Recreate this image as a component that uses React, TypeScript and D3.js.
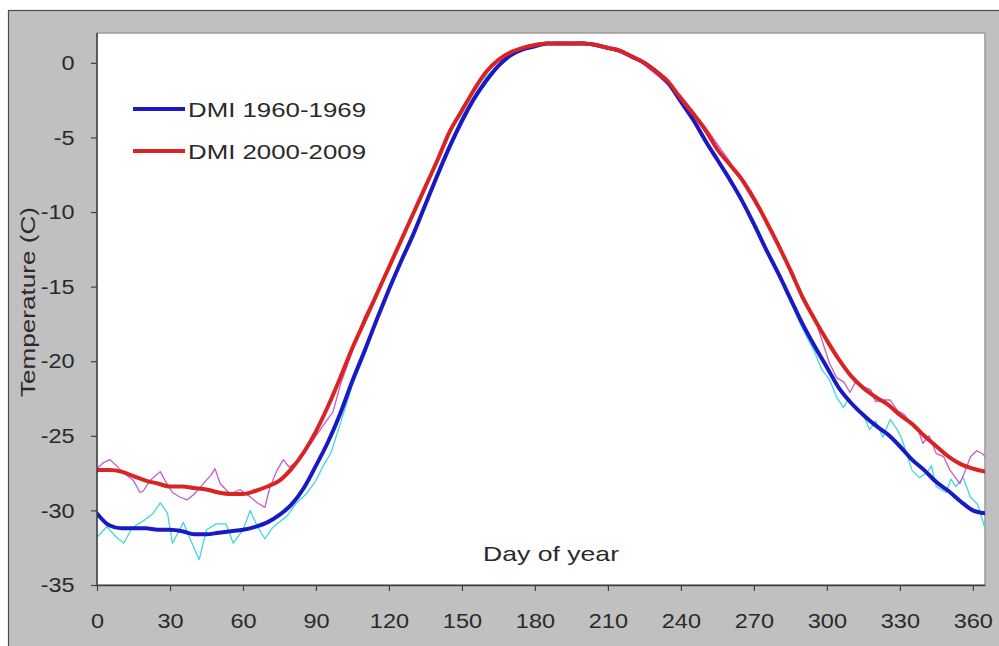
import { useEffect, useRef } from 'react';
import * as d3 from 'd3';

// smoothed curves, 5-day steps
const days = [0, 5, 10, 15, 20, 25, 30, 35, 40, 45, 50, 55, 60, 65, 70, 75, 80, 85, 90, 95, 100,
  105, 110, 115, 120, 125, 130, 135, 140, 145, 150, 155, 160, 165, 170, 175, 180, 185, 190, 195, 200,
  205, 210, 215, 220, 225, 230, 235, 240, 245, 250, 255, 260, 265, 270, 275, 280, 285, 290, 295, 300,
  305, 310, 315, 320, 325, 330, 335, 340, 345, 350, 355, 360, 365];

const dmi1960 = [-30.2, -31.0, -31.2, -31.2, -31.2, -31.3, -31.3, -31.4, -31.6, -31.6, -31.5, -31.4, -31.3,
  -31.1, -30.8, -30.3, -29.6, -28.5, -27.0, -25.4, -23.5, -21.3, -19.3, -17.2, -15.2, -13.3, -11.5, -9.5,
  -7.5, -5.6, -3.9, -2.4, -1.2, -0.2, 0.5, 0.9, 1.1, 1.3, 1.3, 1.3, 1.3, 1.2, 1.0, 0.8, 0.4, 0.0, -0.6,
  -1.4, -2.6, -3.8, -5.2, -6.5, -7.8, -9.2, -10.8, -12.5, -14.1, -15.8, -17.5, -19.0, -20.4, -21.8, -22.8,
  -23.6, -24.3, -24.9, -25.7, -26.6, -27.3, -28.1, -28.7, -29.4, -30.0, -30.2];

const dmi2000 = [-27.3, -27.3, -27.4, -27.7, -28.0, -28.2, -28.4, -28.4, -28.5, -28.6, -28.8, -28.9, -28.9,
  -28.7, -28.4, -28.0, -27.2, -26.1, -24.7, -23.0, -21.1, -19.1, -17.3, -15.5, -13.7, -11.9, -10.1, -8.3,
  -6.5, -4.6, -3.2, -1.8, -0.6, 0.2, 0.7, 1.0, 1.2, 1.3, 1.3, 1.3, 1.3, 1.2, 1.0, 0.8, 0.4, 0.0, -0.6,
  -1.3, -2.4, -3.4, -4.5, -5.8, -6.8, -7.8, -9.1, -10.6, -12.2, -13.9, -15.7, -17.2, -18.6, -19.9, -21.0,
  -21.8, -22.4, -22.9, -23.6, -24.2, -25.0, -25.7, -26.4, -26.9, -27.2, -27.4];

// daily (unsmoothed) traces
const raw1960Days = [0, 4, 8, 11, 14, 16, 20, 23, 26, 29, 31, 33, 35.5, 38, 42, 45, 49, 53, 56, 60, 63, 66,
  69, 72, 74, 78, 82, 86, 90, 93, 96, 100, 105, 110, 120, 130, 140, 150, 160, 170, 180, 190, 200, 210,
  220, 230, 240, 250, 260, 270, 280, 290, 295, 298, 301, 304, 306.8, 309, 312, 315, 317.6, 320, 323, 326,
  329, 331, 335, 338, 341, 343, 345, 349, 351, 353, 356, 359, 362, 365];
const raw1960 = [-31.8, -31.1, -31.8, -32.2, -31.3, -31.0, -30.6, -30.2, -29.5, -30.2, -32.2, -31.6, -30.8,
  -31.8, -33.3, -31.3, -30.9, -30.9, -32.2, -31.3, -30.0, -31.1, -31.9, -31.2, -30.9, -30.4, -29.5, -28.9,
  -28.0, -27.0, -26.2, -24.2, -21.6, -19.6, -15.0, -11.6, -7.3, -3.6, -0.9, 0.6, 1.2, 1.4, 1.3, 1.0, 0.4,
  -0.5, -2.3, -5.3, -7.6, -11.0, -14.2, -17.8, -19.4, -20.6, -21.2, -22.4, -23.1, -22.5, -23.3, -23.6,
  -24.6, -24.0, -25.1, -23.9, -24.6, -25.3, -27.3, -27.8, -27.5, -27.0, -28.4, -28.8, -27.9, -28.4, -27.8,
  -29.1, -29.6, -31.2];

const raw2000Days = [0, 2.6, 5.4, 8, 11, 15, 17.7, 19, 21.8, 26, 28, 31, 34, 37, 40, 43.7, 47, 48.5, 50.6,
  54.7, 58.8, 63, 66, 69, 71, 74, 76.6, 79, 83.5, 86, 90, 93, 97, 100, 105, 110, 120, 130, 140, 150, 160,
  170, 180, 190, 200, 210, 220, 230, 240, 250, 260, 270, 280, 290, 296, 301, 304, 307, 309.5, 312, 315,
  318, 320, 323, 326, 329, 332, 334, 337, 339.5, 342, 345, 348, 350.6, 354.7, 357, 359, 361.6, 364, 365];
const raw2000 = [-27.2, -26.8, -26.6, -27.0, -27.5, -28.0, -28.8, -28.7, -28.0, -27.4, -28.0, -28.8, -29.1,
  -29.3, -28.9, -28.2, -27.6, -27.2, -28.2, -28.9, -28.6, -29.1, -29.5, -29.8, -28.5, -27.3, -26.6, -27.1,
  -26.6, -26.0, -25.0, -24.3, -23.4, -21.6, -19.3, -17.0, -13.9, -10.0, -6.6, -3.0, -0.6, 0.8, 1.2, 1.3,
  1.4, 1.0, 0.5, -0.8, -2.2, -4.3, -6.6, -9.3, -12.0, -15.9, -17.6, -20.1, -21.1, -21.4, -22.1, -21.3,
  -21.7, -21.9, -22.7, -22.6, -22.6, -23.3, -23.6, -24.1, -24.4, -25.5, -25.0, -26.2, -26.4, -27.3, -28.2,
  -27.3, -26.4, -26.0, -26.2, -26.4];

const xTicks = [0, 30, 60, 90, 120, 150, 180, 210, 240, 270, 300, 330, 360];
const yTicks = [-35, -30, -25, -20, -15, -10, -5, 0];
const legendLabels = ['DMI 1960-1969', 'DMI 2000-2009'];

const FONT = '"Liberation Sans", Arial, sans-serif';

export default function App() {
  const ref = useRef<SVGSVGElement>(null);

  useEffect(() => {
    if (!ref.current) return;
    const svg = d3.select(ref.current);
    svg.selectAll('*').remove();

    const L = 97, T = 33, R = 985, B = 585;
    const x = d3.scaleLinear().domain([0, 365]).range([L, R]);
    const y = d3.scaleLinear().domain([-35, 2]).range([B, T]);

    // outer grey frame
    svg.append('rect').attr('x', 8.5).attr('y', 10.5).attr('width', 1000).attr('height', 700)
      .attr('fill', '#c0c0c0').attr('stroke', '#4a4a4a').attr('stroke-width', 1.2);

    // plot area
    svg.append('rect').attr('x', L).attr('y', T).attr('width', R - L).attr('height', B - T)
      .attr('fill', '#fff').attr('stroke', '#9a9a9a').attr('stroke-width', 1.5);

    svg.append('clipPath').attr('id', 'plotclip').append('rect')
      .attr('x', L).attr('y', T).attr('width', R - L).attr('height', B - T);

    const g = svg.append('g').attr('clip-path', 'url(#plotclip)');
    const line = d3.line<[number, number]>().x(d => x(d[0])).y(d => y(d[1]));
    const smooth = d3.line<[number, number]>().x(d => x(d[0])).y(d => y(d[1])).curve(d3.curveMonotoneX);

    const series = [
      { pts: raw1960Days.map((d, i) => [d, raw1960[i]] as [number, number]), color: '#3fd8e0', w: 1.3, gen: line },
      { pts: raw2000Days.map((d, i) => [d, raw2000[i]] as [number, number]), color: '#c45cc8', w: 1.3, gen: line },
      { pts: days.map((d, i) => [d, dmi1960[i]] as [number, number]), color: '#1a1ac4', w: 4, gen: smooth },
      { pts: days.map((d, i) => [d, dmi2000[i]] as [number, number]), color: '#d92424', w: 4, gen: smooth },
    ];
    series.forEach(s => {
      g.append('path').attr('d', s.gen(s.pts)).attr('fill', 'none')
        .attr('stroke', s.color).attr('stroke-width', s.w)
        .attr('stroke-linejoin', 'round').attr('stroke-linecap', 'round');
    });

    // axes (plain hyphen for negatives, as in the original)
    const fmt = (d: d3.NumberValue) => String(d);
    const xAxis = svg.append('g').attr('transform', `translate(0,${B})`)
      .call(d3.axisBottom(x).tickValues(xTicks).tickFormat(fmt).tickSize(6).tickPadding(22).tickSizeOuter(0));
    const yAxis = svg.append('g').attr('transform', `translate(${L},0)`)
      .call(d3.axisLeft(y).tickValues(yTicks).tickFormat(fmt).tickSize(6).tickPadding(14).tickSizeOuter(0));
    [xAxis, yAxis].forEach(a => {
      a.select('.domain').attr('stroke', '#404040').attr('stroke-width', 1.5);
      a.selectAll('.tick line').attr('stroke', '#404040').attr('stroke-width', 1.2);
      a.selectAll('.tick text').attr('font-family', FONT).attr('font-size', 21)
        .attr('fill', '#2a2a2a').attr('transform', 'scale(1.12,1)');
    });
    yAxis.select('.domain').attr('d', `M0,${B}V${T}`);

    // axis titles
    svg.append('text').attr('x', 551).attr('y', 561).attr('text-anchor', 'middle')
      .attr('font-family', FONT).attr('font-size', 21).attr('fill', '#2a2a2a')
      .attr('textLength', 136).attr('lengthAdjust', 'spacingAndGlyphs').text('Day of year');
    svg.append('text').attr('transform', 'translate(35,302) rotate(-90)').attr('text-anchor', 'middle')
      .attr('font-family', FONT).attr('font-size', 21).attr('fill', '#2a2a2a')
      .attr('textLength', 190).attr('lengthAdjust', 'spacingAndGlyphs').text('Temperature (C)');

    // legend
    const legColors = ['#1a1ac4', '#d92424'];
    legendLabels.forEach((lab, i) => {
      const ly = 109 + i * 42;
      svg.append('line').attr('x1', 133).attr('x2', 185).attr('y1', ly).attr('y2', ly)
        .attr('stroke', legColors[i]).attr('stroke-width', 4);
      svg.append('text').attr('x', 188).attr('y', ly + 8).attr('font-family', FONT)
        .attr('font-size', 21).attr('fill', '#2a2a2a')
        .attr('textLength', 178).attr('lengthAdjust', 'spacingAndGlyphs').text(lab);
    });
  }, []);

  return (
    <svg ref={ref} width={999} height={646}
      style={{ position: 'absolute', left: 0, top: 0, display: 'block' }} />
  );
}
